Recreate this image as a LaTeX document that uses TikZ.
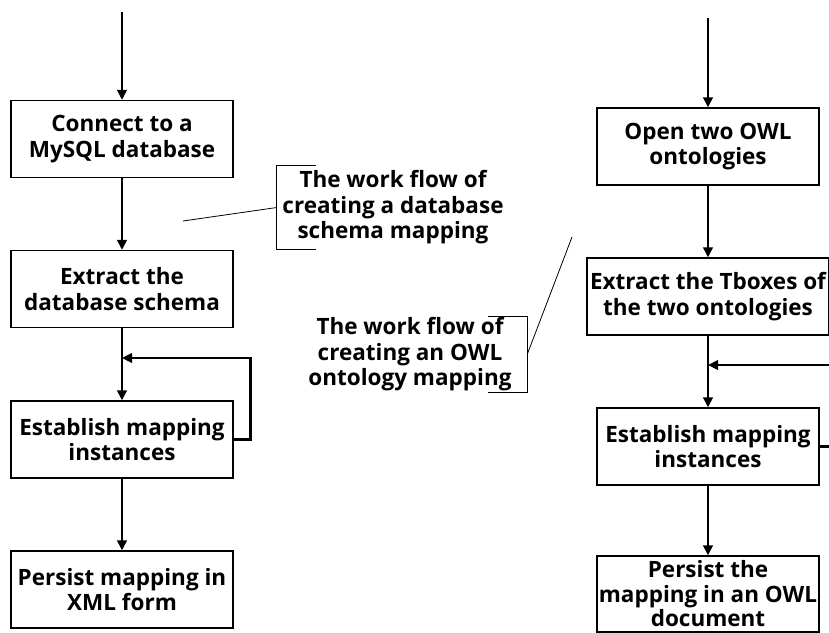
\documentclass[tikz,border=0pt]{standalone}
\usepackage{fontspec}
\setmainfont{Open Sans}
\usepackage{tikz}
\usetikzlibrary{arrows.meta}

\tikzset{
	box/.style={draw,line width=1.2pt,minimum width=222pt,minimum height=77pt,align=center,inner sep=1pt,font=\bfseries\fontsize{22.5}{25.5}\selectfont},
	note/.style={align=center,inner sep=0pt,font=\bfseries\fontsize{22.5}{25.5}\selectfont},
	flow/.style={line width=2.4pt,-{Triangle[length=10pt,width=9.5pt]}},
	lead/.style={line width=0.8pt}
}

\begin{document}
\begin{tikzpicture}[x=1pt,y=-1pt]
			\useasboundingbox (0,0) rectangle (829,632);
			\clip (0,0) rectangle (829,632);
			
			\node[box] (1)at(122,139) {Connect to a\\MySQL database};
			\node[box] (2)at(122,289) {Extract the\\database schema};
			\node[box] (3)at(122,439.5) {Establish mapping\\instances};
			\node[box] (4)at(122,589.5) {Persist mapping in\\XML form};
			\node[box] (5)at(708,146.5) {Open two OWL\\ontologies};
			\node[box,minimum width=242pt] (6)at(708,296.5) {Extract the Tboxes of\\the two ontologies};
			\node[box] (7)at(708,446.5) {Establish mapping\\instances};
			\node[box,minimum height=76pt,font=\bfseries\fontsize{22.5}{24.5}\selectfont] (8)at(708,594) {Persist the\\mapping in an OWL\\document};
			
			\node[note,minimum width=232pt,minimum height=83pt] (c1)at(393,207.5) {The work flow of\\creating a database\\schema mapping};
			\node[note,minimum width=234pt,minimum height=75pt] (c2)at(410,354.5) {The work flow of\\creating an OWL\\ontology mapping};
			
			\coordinate (s1)at(122,12);
			\coordinate (s2)at(708,18);
			\coordinate (j1)at(122,358);
			\coordinate (j2)at(708,365);
			\coordinate (p1)at(183,221);
			\coordinate (p2)at(572,237);
			
			\draw[flow] (s1) -- (1);
			\draw[flow] (1) -- (2);
			\draw[flow] (2) -- (3);
			\draw[flow] (3) -- (4);
			\draw[flow] (3.east) -- ++(17,0) |- (j1);
			
			\draw[flow] (s2) -- (5);
			\draw[flow] (5) -- (6);
			\draw[flow] (6) -- (7);
			\draw[flow] (7) -- (8);
			\draw[flow] (7.east) -- ++(30,0) |- (j2);
			
			\draw[lead] ([xshift=39pt]c1.north west) -- (c1.north west) -- (c1.south west) -- ([xshift=39pt]c1.south west);
			\draw[lead] (c1.west) -- (p1);
			\draw[lead] ([xshift=-39pt]c2.north east) -- (c2.north east) -- (c2.south east) -- ([xshift=-39pt]c2.south east);
			\draw[lead] (c2.east) -- (p2);
		\end{tikzpicture}
\end{document}
